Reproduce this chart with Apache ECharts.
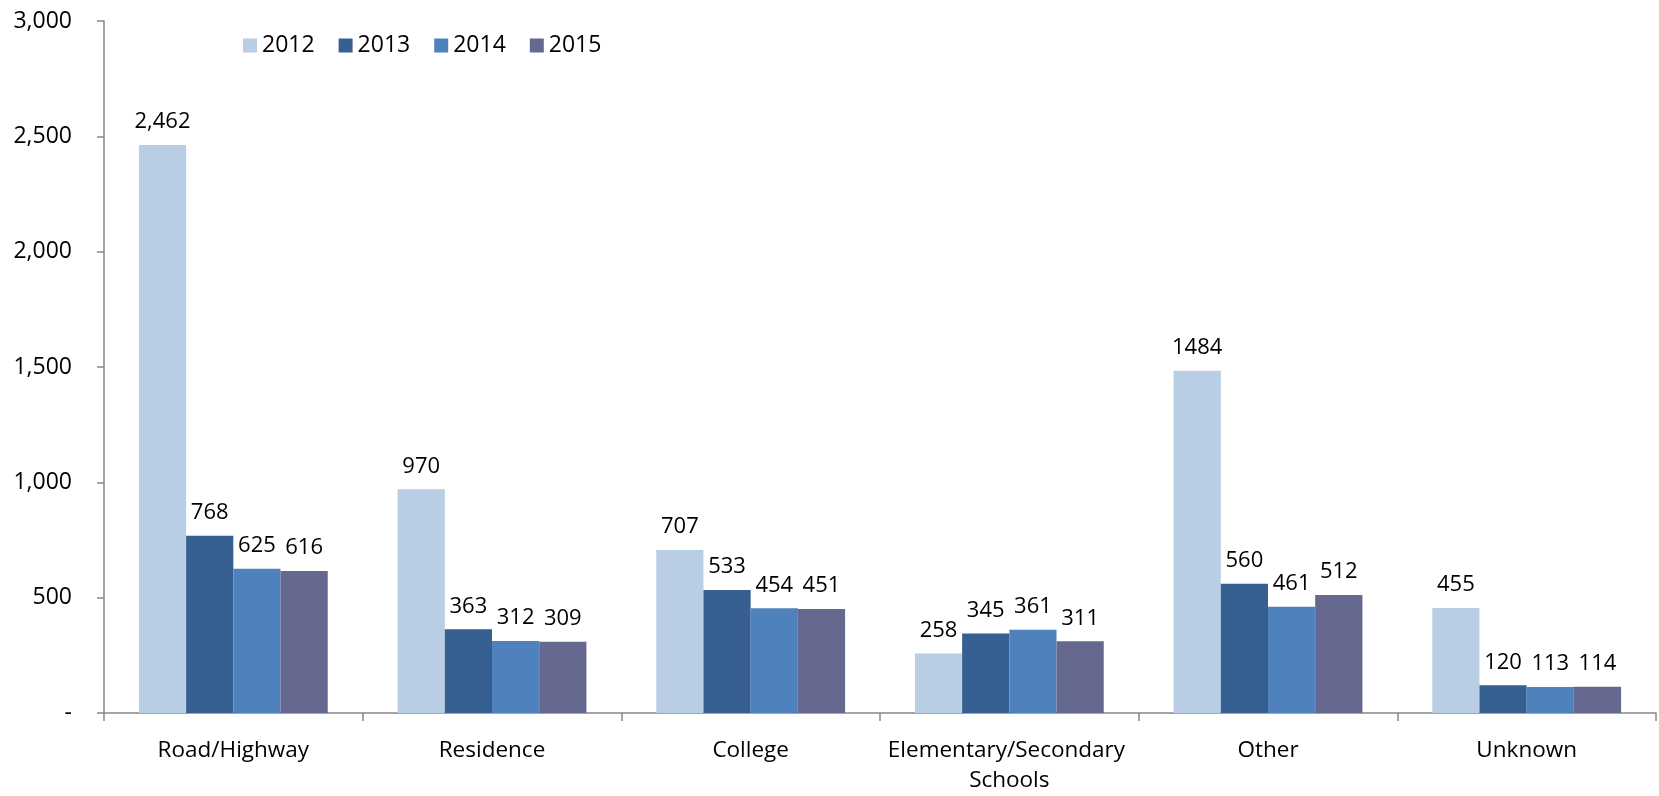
<!DOCTYPE html>
<html>
<head>
<meta charset="utf-8">
<script src="https://cdn.jsdelivr.net/npm/echarts@6/dist/echarts.min.js"></script>
<style>
html,body{margin:0;padding:0;background:#fff;}
#chart{width:1659px;height:796px;}
</style>
</head>
<body>
<div id="chart"></div>
<script>
const categories = ['Road/Highway', 'Residence', 'College', 'Elementary/Secondary Schools', 'Other', 'Unknown'];
const years = ['2012', '2013', '2014', '2015'];
const values2012 = [2462, 970, 707, 258, 1484, 455];
const values2013 = [768, 363, 533, 345, 560, 120];
const values2014 = [625, 312, 454, 361, 461, 113];
const values2015 = [616, 309, 451, 311, 512, 114];
const yTicks = { min: 0, max: 3000, interval: 500 };

const colors = ['#B9CDE5', '#376092', '#4F81BD', '#65698F'];
const FONT = "'Open Sans', 'Liberation Sans', sans-serif";
const seriesValues = [values2012, values2013, values2014, values2015];

function fmt(v) { return v.toLocaleString('en-US'); }

const chart = echarts.init(document.getElementById('chart'));
chart.setOption({
  animation: false,
  backgroundColor: '#ffffff',
  color: colors,
  legend: {
    left: 238, top: 29,
    itemWidth: 14, itemHeight: 14, itemGap: 24,
    icon: 'rect',
    data: years,
    textStyle: { fontFamily: FONT, fontSize: 23, color: '#000' }
  },
  grid: { left: 104, right: 3, top: 21, bottom: 78, containLabel: false },
  xAxis: {
    type: 'category',
    data: categories,
    boundaryGap: true,
    axisLine: { lineStyle: { color: '#888888', width: 1.5 } },
    axisTick: { show: true, alignWithLabel: false, length: 8, lineStyle: { color: '#888888', width: 1.5 } },
    axisLabel: {
      interval: 0, margin: 23, color: '#000', fontFamily: FONT, fontSize: 22.5,
      width: 250, overflow: 'break', lineHeight: 30
    }
  },
  yAxis: {
    type: 'value',
    min: yTicks.min, max: yTicks.max, interval: yTicks.interval,
    splitLine: { show: false },
    axisLine: { show: true, lineStyle: { color: '#888888', width: 1.5 } },
    axisTick: { show: true, length: 7, lineStyle: { color: '#888888', width: 1.5 } },
    axisLabel: {
      margin: 32, color: '#000', fontFamily: FONT, fontSize: 23,
      formatter: v => v === 0 ? '-' : fmt(v)
    }
  },
  series: years.map((y, i) => ({
    name: y,
    type: 'bar',
    data: seriesValues[i],
    barGap: '0%',
    barCategoryGap: '27%',
    itemStyle: { color: colors[i] },
    label: {
      show: true, position: 'top', distance: 12,
      color: '#000', fontFamily: FONT, fontSize: 22,
      formatter: p => (p.seriesIndex === 0 && p.dataIndex === 4) ? String(p.value) : fmt(p.value)
    }
  }))
});
</script>
</body>
</html>
